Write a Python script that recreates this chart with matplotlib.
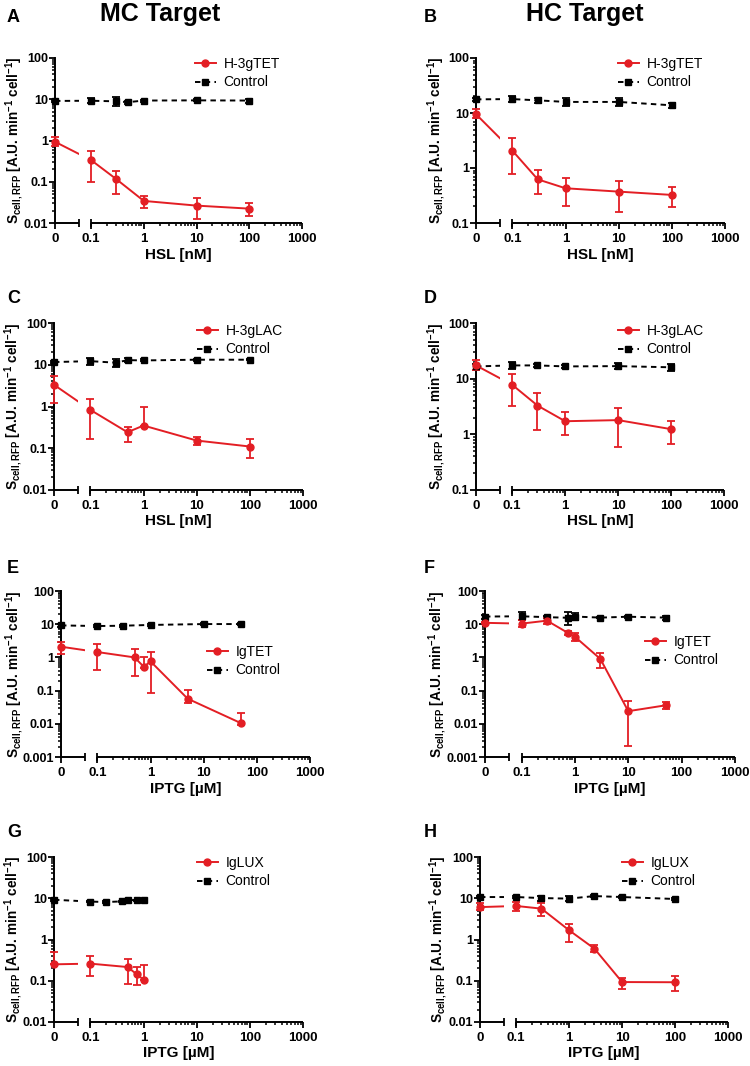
import numpy as np
import matplotlib
matplotlib.use('Agg')
import matplotlib.pyplot as plt
from matplotlib.lines import Line2D
from matplotlib.path import Path
from matplotlib.ticker import FixedLocator, FixedFormatter, LogLocator, NullFormatter, FuncFormatter

plt.rcParams['font.family'] = 'Liberation Sans'
plt.rcParams['font.weight'] = 'bold'
plt.rcParams['mathtext.fontset'] = 'custom'
plt.rcParams['mathtext.rm'] = 'Liberation Sans'
plt.rcParams['mathtext.bf'] = 'Liberation Sans:bold'
plt.rcParams['mathtext.it'] = 'Liberation Sans:italic'

RED = '#e31e24'

# ---- data (mean, lower and upper end of the error bar) ----
# A  MC target, H-3gTET
a_x_red = [0, 0.1, 0.3, 1, 10, 100]
a_y_red = [0.93, 0.335, 0.116, 0.0343, 0.0264, 0.0223]
a_lo_red = [0.75, 0.096, 0.050, 0.0228, 0.0128, 0.0148]
a_hi_red = [1.19, 0.566, 0.184, 0.0454, 0.0406, 0.0307]
a_x_ctl = [0, 0.1, 0.3, 0.5, 1, 10, 100]
a_y_ctl = [9.1, 9.2, 8.9, 8.5, 9.3, 9.4, 9.3]
a_lo_ctl = [8.6, 7.9, 7.0, 7.7, 8.8, 8.9, 8.3]
a_hi_ctl = [9.6, 10.5, 11.2, 9.3, 9.8, 9.9, 10.3]

# B  HC target, H-3gTET
b_x_red = [0, 0.1, 0.3, 1, 10, 100]
b_y_red = [9.5, 2.07, 0.622, 0.428, 0.372, 0.324]
b_lo_red = [8.06, 0.787, 0.343, 0.205, 0.156, 0.194]
b_hi_red = [11.7, 3.51, 0.916, 0.667, 0.589, 0.452]
b_x_ctl = [0, 0.1, 0.3, 1, 10, 100]
b_y_ctl = [17.7, 17.9, 17.0, 15.9, 15.9, 13.8]
b_lo_ctl = [16.5, 15.8, 15.5, 13.5, 13.5, 12.5]
b_hi_ctl = [19.0, 20.0, 18.5, 18.5, 18.5, 15.3]

# C  MC target, H-3gLAC
c_x_red = [0, 0.1, 0.5, 1, 10, 100]
c_y_red = [3.31, 0.83, 0.242, 0.35, 0.153, 0.11]
c_lo_red = [1.2, 0.17, 0.142, 0.35, 0.122, 0.0575]
c_hi_red = [5.45, 1.5, 0.331, 1.0, 0.19, 0.164]
c_x_ctl = [0, 0.1, 0.3, 0.5, 1, 10, 100]
c_y_ctl = [11.6, 12.2, 11.2, 12.9, 12.7, 13.2, 13.2]
c_lo_ctl = [11.0, 10.0, 9.0, 11.5, 12.0, 12.4, 12.7]
c_hi_ctl = [12.2, 14.5, 13.5, 14.3, 13.4, 14.0, 13.7]

# D  HC target, H-3gLAC
d_x_red = [0, 0.1, 0.3, 1, 10, 100]
d_y_red = [17.3, 7.76, 3.29, 1.72, 1.8, 1.24]
d_lo_red = [14.4, 3.25, 1.2, 0.96, 0.6, 0.67]
d_hi_red = [21.9, 12.1, 5.5, 2.47, 3.03, 1.77]
d_x_ctl = [0, 0.1, 0.3, 1, 10, 100]
d_y_ctl = [16.6, 17.3, 17.3, 16.6, 16.8, 16.0]
d_lo_ctl = [14.6, 14.8, 16.3, 15.6, 14.8, 14.0]
d_hi_ctl = [18.6, 19.8, 18.3, 17.6, 18.8, 18.0]

# E  MC target, IgTET
e_x_red = [0, 0.1, 0.5, 0.75, 1, 5, 50]
e_y_red = [2.1, 1.45, 1.0, 0.52, 0.76, 0.057, 0.0105]
e_lo_red = [1.25, 0.41, 0.27, 0.49, 0.083, 0.043, 0.0094]
e_hi_red = [3.0, 2.45, 1.8, 1.06, 1.42, 0.107, 0.0215]
e_x_ctl = [0, 0.1, 0.3, 1, 10, 50]
e_y_ctl = [9.2, 8.8, 9.0, 9.5, 10.1, 10.1]
e_lo_ctl = [8.4, 8.2, 8.3, 8.8, 9.6, 9.6]
e_hi_ctl = [10.0, 9.4, 9.7, 10.2, 10.6, 10.6]

# F  HC target, IgTET
f_x_red = [0, 0.1, 0.3, 0.75, 1, 3, 10, 50]
f_y_red = [11.0, 10.4, 12.8, 5.4, 4.2, 0.9, 0.024, 0.036]
f_lo_red = [10.5, 8.2, 10.4, 4.7, 3.05, 0.49, 0.0021, 0.027]
f_hi_red = [11.6, 13.2, 15.3, 6.3, 5.5, 1.33, 0.047, 0.045]
f_x_ctl = [0, 0.1, 0.3, 0.75, 1, 3, 10, 50]
f_y_ctl = [17.0, 17.3, 16.3, 15.6, 17.0, 15.8, 16.8, 15.8]
f_lo_ctl = [14.8, 13.2, 15.3, 9.7, 13.2, 15.0, 15.8, 13.8]
f_hi_ctl = [19.5, 23.0, 17.3, 23.0, 21.5, 16.6, 17.8, 18.0]

# G  MC target, IgLUX
g_x_red = [0, 0.1, 0.5, 0.75, 1]
g_y_red = [0.25, 0.26, 0.215, 0.143, 0.106]
g_lo_red = [0.25, 0.13, 0.083, 0.077, 0.106]
g_hi_red = [0.5, 0.4, 0.343, 0.215, 0.236]
g_x_ctl = [0, 0.1, 0.2, 0.4, 0.5, 0.75, 1]
g_y_ctl = [9.2, 8.3, 8.1, 8.4, 9.2, 8.9, 8.9]
g_lo_ctl = [8.8, 7.9, 7.8, 8.0, 8.8, 8.5, 8.5]
g_hi_ctl = [9.6, 8.7, 8.4, 8.8, 9.6, 9.3, 9.3]

# H  HC target, IgLUX
h_x_red = [0, 0.1, 0.3, 1, 3, 10, 100]
h_y_red = [6.1, 6.5, 5.6, 1.67, 0.6, 0.093, 0.092]
h_lo_red = [5.1, 4.8, 3.65, 0.87, 0.5, 0.064, 0.056]
h_hi_red = [7.7, 8.1, 7.8, 2.42, 0.72, 0.119, 0.128]
h_x_ctl = [0, 0.1, 0.3, 1, 3, 10, 100]
h_y_ctl = [10.7, 10.7, 10.1, 9.8, 11.3, 10.7, 9.6]
h_lo_ctl = [10.0, 10.0, 8.8, 8.6, 10.8, 10.2, 9.1]
h_hi_ctl = [11.5, 11.4, 11.2, 11.2, 11.8, 11.2, 10.1]

x_ticks = [0, 0.1, 1, 10, 100, 1000]
x_ticklabels = ['0', '0.1', '1', '10', '100', '1000']

# ---- broken x axis: "0" on the y axis, short stub, gap, log 0.1 .. 1000 ----
SEG = 0.097      # axes fraction where the "0" stub ends
START = 0.146    # axes fraction of x = 0.1
DEC = (1 - START) / 4
U0 = -1 - START / DEC
X_SEG = 0.1 * SEG / START


def fwd(x):
    x = np.asarray(x, dtype=float)
    lin = U0 + x / 0.1 * (-1 - U0)
    return np.where(x >= 0.1, np.log10(np.maximum(x, 0.1)), lin)


def inv(u):
    u = np.asarray(u, dtype=float)
    lin = (u - U0) / (-1 - U0) * 0.1
    return np.where(u >= -1, 10 ** np.clip(u, -1, 20), lin)


W, H = 750, 1066
fig = plt.figure(figsize=(W / 100, H / 100), dpi=100)

verts = [(-0.3, -0.3), (SEG, -0.3), (SEG, 1.3), (-0.3, 1.3), (-0.3, -0.3),
         (START, -0.3), (1.3, -0.3), (1.3, 1.3), (START, 1.3), (START, -0.3)]
codes = [Path.MOVETO, Path.LINETO, Path.LINETO, Path.LINETO, Path.CLOSEPOLY] * 2
gap_clip = Path(verts, codes)

ylab = r'S$_{\mathbf{cell,RFP}}$ [A.U. min$^{\mathbf{-1}}$ cell$^{\mathbf{-1}}$]'


def panel(box, ylim, xlabel, red, ctl, name, leg, letter, letter_xy, ylab_x):
    left, right, top, bottom = box
    ax = fig.add_axes([left / W, 1 - bottom / H, (right - left) / W, (bottom - top) / H])
    ax.set_yscale('log')
    ax.set_xscale('function', functions=(fwd, inv))
    ax.set_xlim(0, 1000)
    ax.set_ylim(*ylim)

    for spine in ['top', 'right', 'bottom']:
        ax.spines[spine].set_visible(False)
    ax.spines['left'].set_linewidth(1.4)

    ax.xaxis.set_major_locator(FixedLocator(x_ticks))
    ax.xaxis.set_major_formatter(FixedFormatter(x_ticklabels))
    ax.xaxis.set_minor_locator(FixedLocator([k * 10.0 ** d for d in range(-1, 3) for k in range(2, 10)]))
    ax.yaxis.set_major_locator(LogLocator(base=10, numticks=10))
    ax.yaxis.set_major_formatter(FuncFormatter(lambda v, p: '%g' % v))
    ax.yaxis.set_minor_locator(LogLocator(base=10, subs=np.arange(2, 10), numticks=30))
    ax.yaxis.set_minor_formatter(NullFormatter())
    ax.tick_params(which='major', direction='out', length=4, width=1.3)
    ax.tick_params(which='minor', direction='out', length=2.3, width=1.1)
    ax.tick_params(axis='x', which='major', labelsize=9.5, pad=3)
    ax.tick_params(axis='y', which='major', labelsize=9, pad=1)

    xt = ax.get_xaxis_transform()
    for a, b in [(0, X_SEG), (0.1, 1000)]:
        ax.plot([a, b], [0, 0], color='k', lw=1.4, transform=xt, clip_on=False,
                solid_capstyle='butt', zorder=2.6)
    ax.plot([X_SEG, 0.1], [0, 0], ls='none', marker='|', ms=6, mew=1.3, color='k',
            transform=xt, clip_on=False, zorder=2.6)

    series = [(ctl, 'k', (0, (2.8, 2.2)), 's', 4.3), (red, RED, '-', 'o', 5)]
    for (x, y, lo, hi), col, ls, mk, ms in series:
        y = np.array(y)
        line, = ax.plot(x, y, color=col, ls=ls, lw=1.4, zorder=2)
        line.set_clip_path(gap_clip, ax.transAxes)
        ax.errorbar(x, y, yerr=[y - np.array(lo), np.array(hi) - y], fmt=mk, color=col,
                    ms=ms, elinewidth=1.3, capsize=2.6, capthick=1.3, clip_on=False, zorder=3)

    handles = [Line2D([], [], color=RED, lw=1.4, marker='o', ms=5),
               Line2D([], [], color='k', lw=1.4, ls=(0, (2.8, 2.2)), marker='s', ms=4.3)]
    ax.legend(handles, [name, 'Control'], loc='upper left',
              bbox_to_anchor=(leg[0] / W, 1 - (leg[1] + 2) / H), bbox_transform=fig.transFigure,
              frameon=False, borderpad=0, borderaxespad=0, handlelength=1.5,
              handletextpad=0.55, labelspacing=0.32, prop={'size': 10, 'weight': 'normal'})

    ax.set_xlabel(xlabel, fontsize=11, fontweight='bold', labelpad=2)
    fig.text(ylab_x / W, 1 - (top + bottom) / 2 / H, ylab, rotation=90, ha='center',
             va='center', fontsize=9.8, fontweight='bold')
    fig.text(letter_xy[0] / W, 1 - letter_xy[1] / H, letter, fontsize=13,
             fontweight='bold', va='baseline')
    return ax


panel((55, 302, 58, 223), (0.01, 100), 'HSL [nM]',
      (a_x_red, a_y_red, a_lo_red, a_hi_red), (a_x_ctl, a_y_ctl, a_lo_ctl, a_hi_ctl),
      'H-3gTET', (195, 55), 'A', (7, 22), 14)
panel((476, 725, 58, 223), (0.1, 100), 'HSL [nM]',
      (b_x_red, b_y_red, b_lo_red, b_hi_red), (b_x_ctl, b_y_ctl, b_lo_ctl, b_hi_ctl),
      'H-3gTET', (618, 55), 'B', (424, 22), 436)
panel((54, 303, 323, 490), (0.01, 100), 'HSL [nM]',
      (c_x_red, c_y_red, c_lo_red, c_hi_red), (c_x_ctl, c_y_ctl, c_lo_ctl, c_hi_ctl),
      'H-3gLAC', (197, 322), 'C', (7, 303), 13)
panel((476, 724, 323, 490), (0.1, 100), 'HSL [nM]',
      (d_x_red, d_y_red, d_lo_red, d_hi_red), (d_x_ctl, d_y_ctl, d_lo_ctl, d_hi_ctl),
      'H-3gLAC', (618, 322), 'D', (424, 303), 436)
panel((61, 310, 591, 757), (0.001, 100), 'IPTG [µM]',
      (e_x_red, e_y_red, e_lo_red, e_hi_red), (e_x_ctl, e_y_ctl, e_lo_ctl, e_hi_ctl),
      'IgTET', (207, 643), 'E', (7, 573), 14)
panel((485, 735, 591, 757), (0.001, 100), 'IPTG [µM]',
      (f_x_red, f_y_red, f_lo_red, f_hi_red), (f_x_ctl, f_y_ctl, f_lo_ctl, f_hi_ctl),
      'IgTET', (645, 633), 'F', (424, 573), 437)
panel((54, 303, 857, 1022), (0.01, 100), 'IPTG [µM]',
      (g_x_red, g_y_red, g_lo_red, g_hi_red), (g_x_ctl, g_y_ctl, g_lo_ctl, g_hi_ctl),
      'IgLUX', (197, 854), 'G', (7, 837), 13)
panel((480, 728, 857, 1022), (0.01, 100), 'IPTG [µM]',
      (h_x_red, h_y_red, h_lo_red, h_hi_red), (h_x_ctl, h_y_ctl, h_lo_ctl, h_hi_ctl),
      'IgLUX', (622, 854), 'H', (424, 837), 438)

fig.text(160 / W, 1 - 21 / H, 'MC Target', ha='center', va='baseline', fontsize=18, fontweight='bold')
fig.text(585 / W, 1 - 21 / H, 'HC Target', ha='center', va='baseline', fontsize=18, fontweight='bold')

fig.savefig('out.png', dpi=100)
